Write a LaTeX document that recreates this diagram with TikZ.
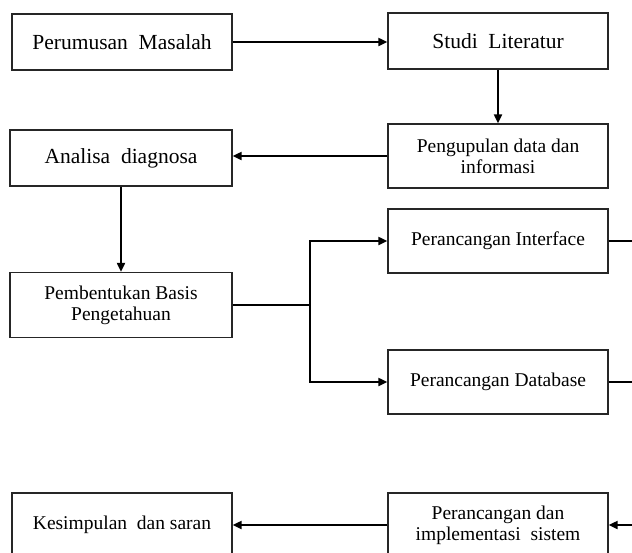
\documentclass[tikz,border=0pt]{standalone}
\usepackage{fontspec}
\setmainfont{Liberation Serif}
\usetikzlibrary{arrows.meta}
\begin{document}
\begin{tikzpicture}[x=1pt,y=-1pt,
  box/.style={draw=black!85, line width=1.3pt, rectangle, inner sep=0pt, align=center,
    minimum width=220pt, minimum height=#1},
  box/.default=56pt,
  conn/.style={line width=2pt, black},
  arr/.style={conn, -{Triangle[length=9pt,width=8pt]}},
  big/.style={font=\fontsize{21.5}{24}\selectfont},
  med/.style={font=\fontsize{19.5}{21}\selectfont}]
\clip (0,0) rectangle (632,552);
\fill[white] (0,0) rectangle (632,552);

\node[box, big] (pm) at (122,42) {Perumusan\ \ Masalah};
\node[box, big] (sl) at (498,41) {Studi\ \ Literatur};
\node[box=64pt, med] (pd) at (498,156) {Pengupulan data dan\\informasi};
\node[box, big, minimum width=222pt] (ad) at (121,158) {Analisa\ \ diagnosa};
\node[box=65pt, med, minimum width=222pt] (pb) at (121,305) {Pembentukan Basis\\Pengetahuan};
\node[box=64pt, med] (pi) at (498,241) {Perancangan Interface};
\node[box=64pt, med] (pdb) at (498,382) {Perancangan Database};
\node[box=64pt, med] (pis) at (498,525) {Perancangan dan\\implementasi\ \ sistem};
\node[box=64pt, med] (ks) at (122,525) {Kesimpulan\ \ dan saran};

\coordinate (split) at (310,305);
\coordinate (r1) at (645,241);
\coordinate (r2) at (645,382);
\coordinate (r3) at (645,525);

\draw[arr] (pm.east) -- (sl.west |- pm.east);
\draw[arr] (sl.south) -- (pd.north);
\draw[arr] (pd.west) -- (ad.east |- pd.west);
\draw[arr] (ad.south) -- (pb.north);
\draw[conn] (pb.east) -- (split);
\draw[arr] (split) |- (pi.west);
\draw[arr] (split) |- (pdb.west);
\draw[conn] (pi.east) -- (r1);
\draw[conn] (pdb.east) -- (r2);
\draw[arr] (r3) -- (pis.east);
\draw[arr] (pis.west) -- (ks.east);
\end{tikzpicture}
\end{document}
